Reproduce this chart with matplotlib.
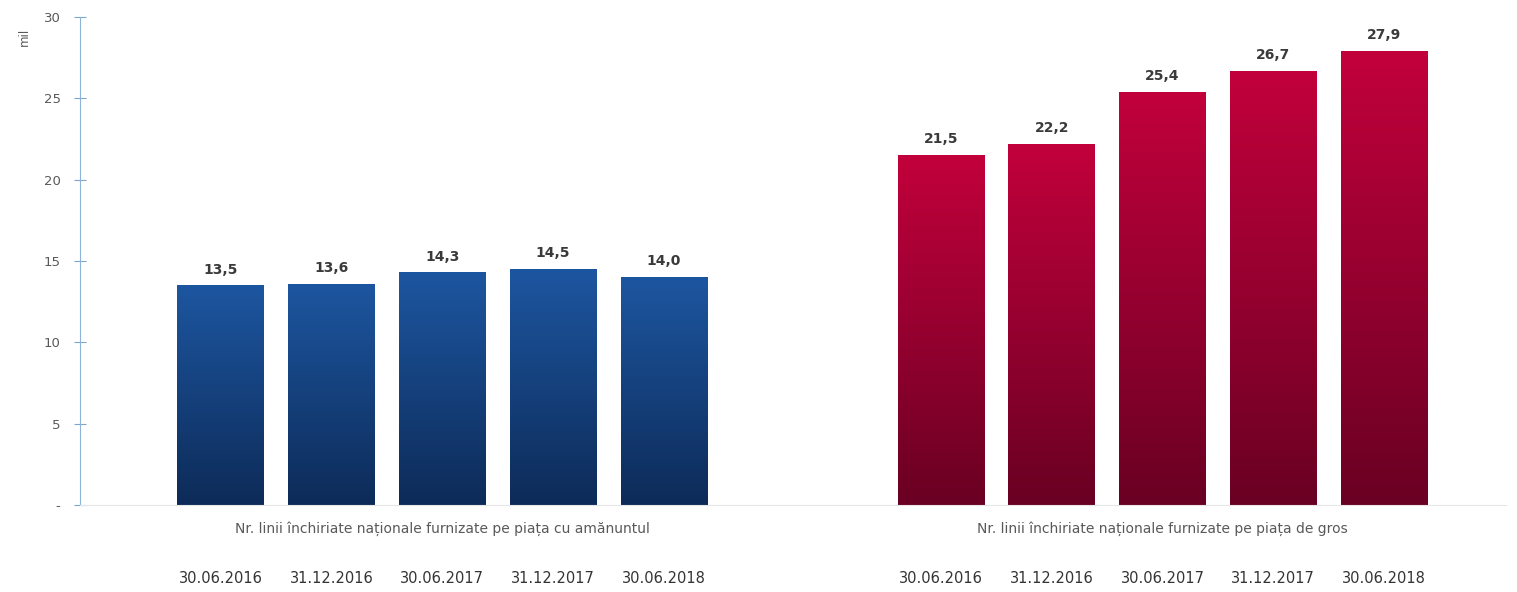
import numpy as np
import matplotlib.pyplot as plt
from matplotlib.colors import LinearSegmentedColormap

dates = ['30.06.2016', '31.12.2016', '30.06.2017', '31.12.2017', '30.06.2018']
retail = [13.5, 13.6, 14.3, 14.5, 14.0]
wholesale = [21.5, 22.2, 25.4, 26.7, 27.9]
group_names = ['Nr. linii închiriate naționale furnizate pe piața cu amănuntul',
               'Nr. linii închiriate naționale furnizate pe piața de gros']
yticks = [0, 5, 10, 15, 20, 25, 30]
ytick_labels = ['-', '5', '10', '15', '20', '25', '30']

plt.rcParams['font.family'] = ['DejaVu Sans']

fig = plt.figure(figsize=(15.17, 5.92), dpi=100)
ax = fig.add_axes([0.0527, 0.147, 0.94, 0.824])

x_retail = np.arange(len(retail))
x_whole = np.arange(len(wholesale)) + 6.5

blue = LinearSegmentedColormap.from_list('b', ['#0d2b58', '#1d56a0'])
red = LinearSegmentedColormap.from_list('r', ['#690023', '#c2003c'])

def grad_bars(xs, vals, cmap):
	bars = ax.bar(xs, vals, width=0.78, color='none', edgecolor='none')
	grad = np.linspace(0, 1, 256).reshape(-1, 1)
	for b in bars:
		x0, w, h = b.get_x(), b.get_width(), b.get_height()
		im = ax.imshow(grad, extent=(x0, x0 + w, 0, h), origin='lower',
		               aspect='auto', cmap=cmap, zorder=2)
		im.set_clip_path(b)
	for xi, v in zip(xs, vals):
		ax.text(xi, v + 0.55, ('%.1f' % v).replace('.', ','), ha='center', va='bottom',
		        fontsize=10, fontweight='bold', color='#3a3a3a')

grad_bars(x_retail, retail, blue)
grad_bars(x_whole, wholesale, red)

ax.set_xlim(-1.27, 11.6)
ax.set_ylim(0, 30)
ax.set_yticks(yticks)
ax.set_yticklabels(ytick_labels)
ax.tick_params(axis='y', direction='inout', length=8, color='#7fa6cf',
               labelcolor='#595959', labelsize=9.5, pad=10)
ax.set_xticks([])
for s in ['top', 'right']:
	ax.spines[s].set_visible(False)
ax.spines['left'].set_color('#8fb4d9')
ax.spines['bottom'].set_color('#e6e6e6')

ax.text(-1.27 - 0.5, 28.8, 'mil', rotation=90, ha='center', va='center',
        fontsize=8.5, color='#595959')

for xs, name in [(x_retail, group_names[0]), (x_whole, group_names[1])]:
	ax.text(xs.mean(), -1.45, name, ha='center', va='center', fontsize=10, color='#595959')
	for xi, d in zip(xs, dates):
		ax.text(xi, -4.5, d, ha='center', va='center', fontsize=10.5, color='#333333')

fig.savefig('out.png', dpi=100)
